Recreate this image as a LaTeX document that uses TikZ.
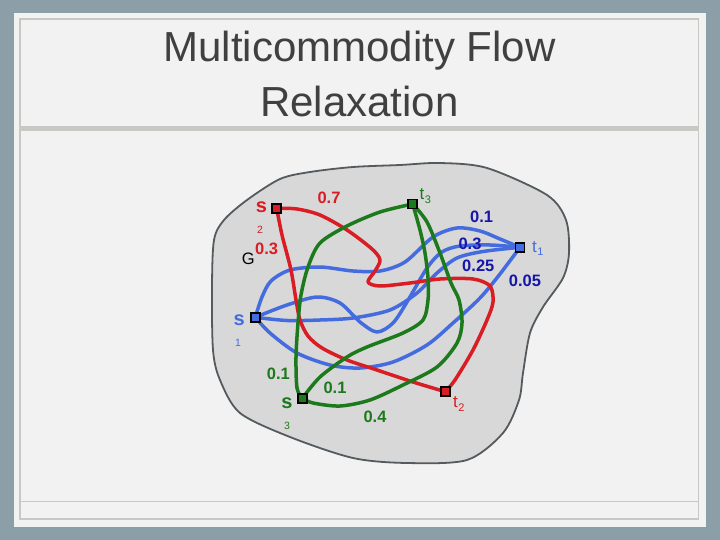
\documentclass[tikz,border=0pt]{standalone}
\usepackage{fontspec}
\setmainfont{Liberation Sans}
\definecolor{outerbg}{RGB}{140,159,168}
\definecolor{panel}{RGB}{242,242,242}
\definecolor{frame}{RGB}{200,200,196}
\definecolor{titlec}{RGB}{64,64,64}
\definecolor{blobfill}{RGB}{216,216,216}
\definecolor{blobline}{RGB}{84,90,94}
\definecolor{cred}{RGB}{218,28,36}
\definecolor{cgreen}{RGB}{28,122,28}
\definecolor{cblue}{RGB}{68,108,222}
\definecolor{dblue}{RGB}{22,22,170}
\tikzset{
  sq/.style={draw=black, line width=1.5pt, minimum size=9pt, inner sep=0pt},
  flow/.style={line width=3.5pt, line cap=round, line join=round},
  lbl/.style={font=\fontsize{16.5}{18}\selectfont\bfseries, inner sep=0pt},
  term/.style={font=\fontsize{20}{22}\selectfont\bfseries, inner sep=0pt},
  subsc/.style={font=\fontsize{10.5}{12}\selectfont, inner sep=0pt},
  tname/.style={font=\fontsize{17}{19}\selectfont, inner sep=0pt},
  titletxt/.style={text=titlec, font=\fontsize{42}{55}\selectfont, inner sep=0pt, anchor=base}
}
\begin{document}
\begin{tikzpicture}[x=1pt,y=-1pt]
\useasboundingbox (0,0) rectangle (720,540);
% slide background
\fill[outerbg] (0,0) rectangle (720,540);
\fill[panel] (14,13) rectangle (706,527);
\draw[frame, line width=1.5pt] (20,19) rectangle (698.5,519);
\fill[frame] (20,126) rectangle (698.5,131.5);
\draw[frame, line width=1.5pt] (20,501.7) -- (698.5,501.7);
% title
\node[titletxt] (title1) at (359.5,61.7) {Multicommodity Flow};
\node[titletxt] (title2) at (359.5,116.7) {Relaxation};
% graph region G
\draw[fill=blobfill, draw=blobline, line width=1.8pt] plot[smooth cycle, tension=0.5] coordinates {
 (247,200) (280,179) (310,172) (353,167) (400,165) (440,163) (487,168) (547,195) (566,220) (569,253) (563,278)
 (543,307) (530,333) (523,373) (519,400) (503,433) (467,460) (407,463) (353,458) (290,437)
 (240,413) (220,380) (213,350) (212,287) (214,240) (224,220)};
% terminals (coordinates)
\coordinate (S1) at (255.3,317.3);
\coordinate (S2) at (276.7,208.3);
\coordinate (S3) at (302.3,398.3);
\coordinate (T1) at (520,247.3);
\coordinate (T2) at (445.3,391.7);
\coordinate (T3) at (412.7,204);
% blue flows s1 -> t1
\draw[flow, cblue] plot[smooth, tension=0.5] coordinates {(S1) (262,297) (271,281) (290,270) (320,267) (353,271) (380,271) (405,262) (433,237) (457,228) (480,231) (500,239) (T1)};
\draw[flow, cblue] plot[smooth, tension=0.5] coordinates {(S1) (287,305) (317,297) (340,303) (360,322) (377,332) (393,323) (407,302) (427,268) (442,252) (460,246) (490,245) (T1)};
\draw[flow, cblue] plot[smooth, tension=0.5] coordinates {(S1) (287,320.5) (320,320) (353,318) (390,310) (417,293) (437,273) (457,258) (483,251.5) (T1)};
\draw[flow, cblue] plot[smooth, tension=0.5] coordinates {(S1) (270,333) (297,353) (330,365) (360,368) (393,362) (427,345) (453,323) (480,298) (500,274) (T1)};
% red flows s2 -> t2
\draw[flow, cred] plot[smooth, tension=0.5] coordinates {(S2) (297,209) (320,215) (347,230) (372,249) (380,260) (375,271) (368,282) (380,286) (410,283) (440,279) (473,279) (490,286) (493,302) (487,320) (473,350) (455,380) (T2)};
\draw[flow, cred] plot[smooth, tension=0.5] coordinates {(S2) (282,235) (291,270) (296,300) (300,320) (308,336) (322,348) (347,360) (377,370) (413,382) (T2)};
% green flows s3 -> t3
\draw[flow, cgreen] plot[smooth, tension=0.5] coordinates {(S3) (297,388) (296,357) (298,323) (301,295) (308,267) (320,243) (347,226) (380,212) (T3)};
\draw[flow, cgreen] plot[smooth, tension=0.5] coordinates {(S3) (320,377) (347,357) (367,347) (403,333) (423,320) (428,300) (428,278) (425,253) (420,230) (T3)};
\draw[flow, cgreen] plot[smooth, tension=0.5] coordinates {(S3) (313,403) (340,406) (370,400) (403,385) (437,367) (457,343) (462,323) (459,300) (451,283) (440,253) (427,222) (T3)};
% terminal squares
\node[sq, fill=cblue] (s1) at (S1) {};
\node[sq, fill=cred] (s2) at (S2) {};
\node[sq, fill=cgreen] (s3) at (S3) {};
\node[sq, fill=cblue] (t1) at (T1) {};
\node[sq, fill=cred] (t2) at (T2) {};
\node[sq, fill=cgreen] (t3) at (T3) {};
% terminal labels
\node[term, text=cred] (s2l) at (261.5,207) {s};
\node[subsc, text=cred] (s2n) at (260,230) {2};
\node[term, text=cblue] (s1l) at (239.3,320) {s};
\node[subsc, text=cblue] (s1n) at (238,343.3) {1};
\node[term, text=cgreen] (s3l) at (287,403.5) {s};
\node[subsc, text=cgreen] (s3n) at (287,426) {3};
\node[tname, text=cgreen, anchor=base west] (t3l) at (419.5,200) {t\kern0.5pt\raisebox{-3.5pt}{\fontsize{11}{12}\selectfont 3}};
\node[tname, text=cblue, anchor=base west] (t1l) at (532,252) {t\kern0.5pt\raisebox{-3.5pt}{\fontsize{11}{12}\selectfont 1}};
\node[tname, text=cred, anchor=base west] (t2l) at (453,407.5) {t\kern0.5pt\raisebox{-3.5pt}{\fontsize{11}{12}\selectfont 2}};
\node[font=\fontsize{16.5}{18}\selectfont, inner sep=0pt] (G) at (248.3,258.5) {G};
% flow values
\node[lbl, text=cred] (v07) at (329,197.5) {0.7};
\node[lbl, text=cred] (v03r) at (266.7,249) {0.3};
\node[lbl, text=dblue] (v01b) at (481.7,216.7) {0.1};
\node[lbl, text=dblue] (v03b) at (470,244) {0.3};
\node[lbl, text=dblue] (v025) at (478.3,266) {0.25};
\node[lbl, text=dblue] (v005) at (525,280.7) {0.05};
\node[lbl, text=cgreen] (v01g1) at (278.3,373.5) {0.1};
\node[lbl, text=cgreen] (v01g2) at (335,387.5) {0.1};
\node[lbl, text=cgreen] (v04) at (375,416.7) {0.4};
\end{tikzpicture}
\end{document}
